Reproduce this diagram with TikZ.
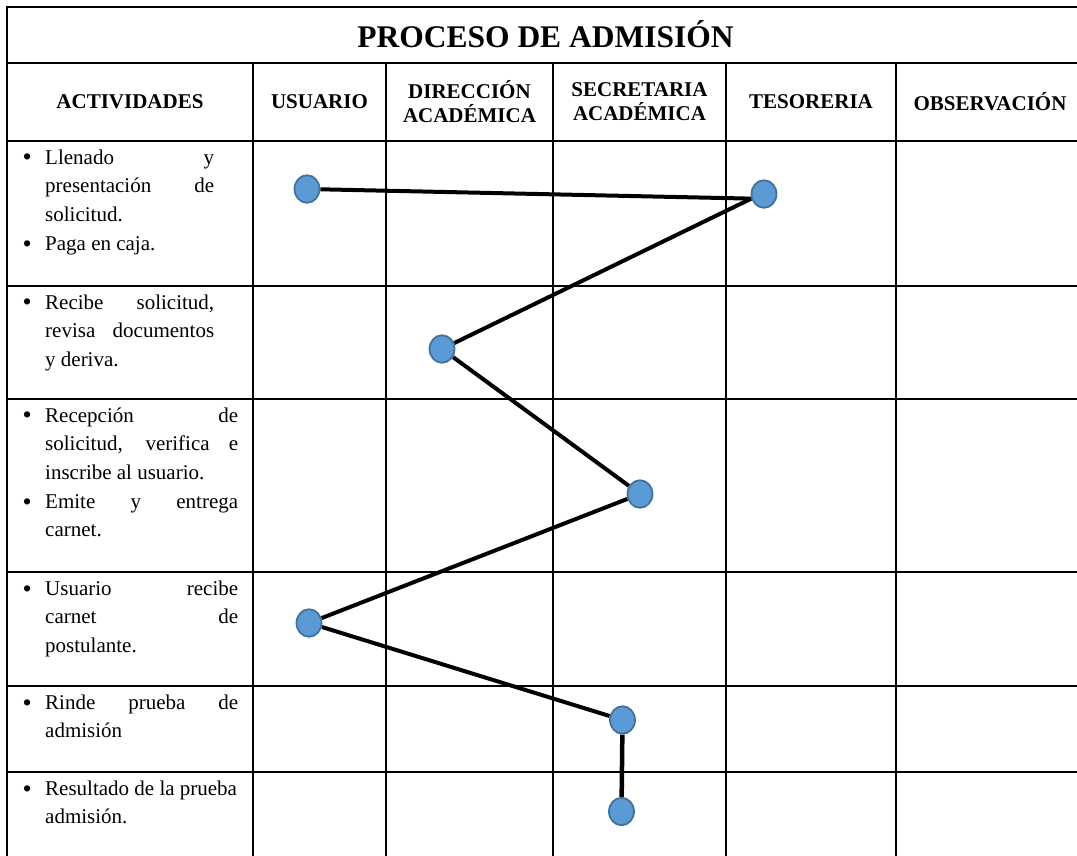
\documentclass[tikz,border=0pt]{standalone}
\usepackage{fontspec}
\setmainfont{Liberation Serif}
\usetikzlibrary{shapes.geometric,backgrounds}
\definecolor{dotblue}{HTML}{5B9BD5}
\definecolor{dotedge}{HTML}{41719C}
\newcommand{\jl}[2]{\strut\makebox[#1pt][s]{#2}}
\newcommand{\bl}{\llap{\raisebox{-1.8pt}{\fontsize{26}{26}\selectfont\textbullet}\hspace{13.5pt}}}
\begin{document}
\begin{tikzpicture}[x=1pt,y=-1pt,
  grid/.style={line width=2.2pt,black},
  hdr/.style={font=\fontsize{21}{24}\selectfont\bfseries,align=center,inner sep=0pt},
  celltext/.style={font=\fontsize{21}{28.7}\selectfont,align=left,inner sep=0pt,anchor=north west},
  dot/.style={ellipse,minimum width=25pt,minimum height=27.5pt,inner sep=0pt,fill=dotblue,draw=dotedge,line width=1.8pt},
  conn/.style={line width=4pt,black}]
\useasboundingbox (0,0) rectangle (1077,855);
\clip (0,0) rectangle (1077,855);
% grid
\draw[grid] (7,870) -- (7,7) -- (1084,7);
\foreach \yy in {63,141,286,399,572,686,772}{\draw[grid] (7,\yy) -- (1084,\yy);}
\foreach \xx in {253,386,553,726,896,1084}{\draw[grid] (\xx,63) -- (\xx,870);}
% title
\node[font=\fontsize{31.5}{36}\selectfont\bfseries,anchor=base,inner sep=0pt] (title) at (545.5,47) {PROCESO DE ADMISIÓN};
% headers
\node[hdr] (h1) at (130,102) {ACTIVIDADES};
\node[hdr] (h2) at (319.5,102) {USUARIO};
\node[hdr] (h3) at (469.5,102) {DIRECCIÓN\\ACADÉMICA};
\node[hdr] (h4) at (639.5,102) {SECRETARIA\\ACADÉMICA};
\node[hdr] (h5) at (811,102) {TESORERIA};
\node[hdr] (h6) at (990,102) {OBSERVACIÓN};
% activities
\node[celltext] (a1) at (45,143.9) {\bl\jl{169}{Llenado y}\\\jl{169}{presentación de}\\\strut solicitud.\\\strut\bl Paga en caja.};
\node[celltext] (a2) at (45,288.9) {\bl\jl{169}{Recibe solicitud,}\\\jl{169}{revisa documentos}\\\strut y deriva.};
\node[celltext] (a3) at (45,401.9) {\bl\jl{193}{Recepción de}\\\jl{193}{solicitud, verifica e}\\\strut inscribe al usuario.\\\strut\bl\jl{193}{Emite y entrega}\\\strut carnet.};
\node[celltext] (a4) at (45,574.9) {\bl\jl{193}{Usuario recibe}\\\jl{193}{carnet de}\\\strut postulante.};
\node[celltext] (a5) at (45,688.9) {\bl\jl{193}{Rinde prueba de}\\\strut admisión};
\node[celltext] (a6) at (45,774.9) {\strut\bl Resultado de la prueba\\\strut admisión.};
% flow dots
\node[dot] (c1) at (307,189) {};
\node[dot] (c2) at (764,194) {};
\node[dot] (c3) at (442,349) {};
\node[dot] (c4) at (640,494) {};
\node[dot] (c5) at (309,623) {};
\node[dot] (c6) at (622.5,720) {};
\node[dot] (c7) at (621.5,811.5) {};
\begin{pgfonlayer}{background}
\draw[conn] (c1) -- (c2.200);
\draw[conn] (c2.200) -- (c3);
\draw[conn] (c3) -- (c4);
\draw[conn] (c4) -- (c5);
\draw[conn] (c5) -- (c6);
\draw[conn,line width=4.5pt] (c6) -- (c7);
\end{pgfonlayer}
\end{tikzpicture}
\end{document}
